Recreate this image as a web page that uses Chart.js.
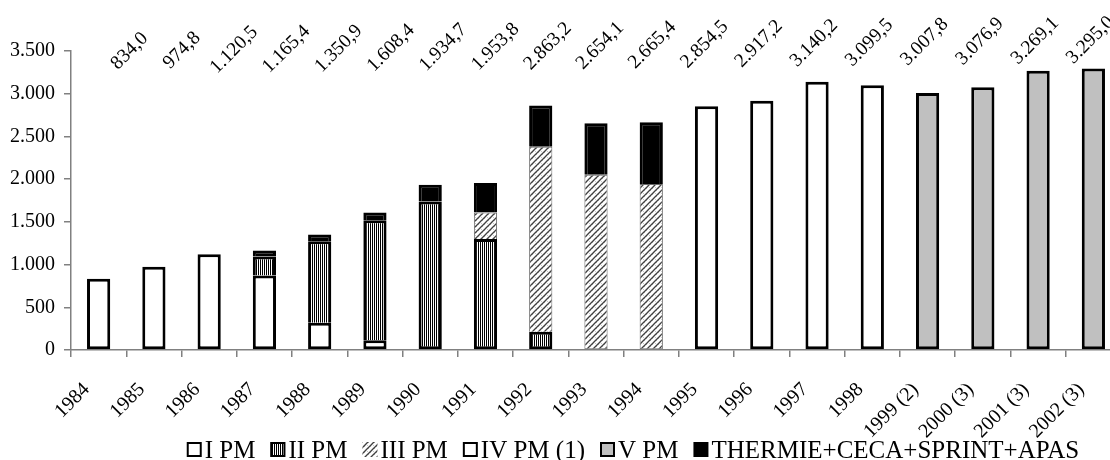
<!DOCTYPE html>
<html>
<head>
<meta charset="utf-8">
<script src="https://cdn.jsdelivr.net/npm/chart.js@4/dist/chart.umd.min.js"></script>
<style>
html, body { margin: 0; padding: 0; background: #fff; overflow: hidden; }
#box { position: absolute; left: 0; top: 0; width: 1121px; height: 460px; }
</style>
</head>
<body>
<div id="box"><canvas id="grafico" width="1121" height="460"></canvas></div>
<script>
var anni = ['1984', '1985', '1986', '1987', '1988', '1989', '1990', '1991', '1992', '1993',
            '1994', '1995', '1996', '1997', '1998', '1999 (2)', '2000 (3)', '2001 (3)', '2002 (3)'];

var pm1 = [834.0, 974.8, 1120.5, 871, 320, 114, null, null, null, null, null, null, null, null, null, null, null, null, null];
var pm2 = [null, null, null, 223, 954, 1406, 1739, 1298, 215, null, null, null, null, null, null, null, null, null, null];
var pm3 = [null, null, null, null, null, null, null, 312, 2165, 2052, 1943, null, null, null, null, null, null, null, null];
var pm4 = [null, null, null, null, null, null, null, null, null, null, null, 2854.5, 2917.2, 3140.2, 3099.5, null, null, null, null];
var pm5 = [null, null, null, null, null, null, null, null, null, null, null, null, null, null, null, 3007.8, 3076.9, 3269.1, 3295.0];
var thermie = [null, null, null, 71.4, 76.9, 88.4, 195.7, 343.8, 483.2, 602.1, 722.4, null, null, null, null, null, null, null, null];

var totali = [834.0, 974.8, 1120.5, 1165.4, 1350.9, 1608.4, 1934.7, 1953.8, 2863.2, 2654.1,
              2665.4, 2854.5, 2917.2, 3140.2, 3099.5, 3007.8, 3076.9, 3269.1, 3295.0];

var tickY = [0, 500, 1000, 1500, 2000, 2500, 3000, 3500];

var FONT = '"Liberation Serif", "Times New Roman", serif';

// formato 1.234,5
function formatta(v, dec) {
    var s = v.toFixed(dec);
    var parti = s.split('.');
    var intero = parti[0].replace(/\B(?=(\d{3})+(?!\d))/g, '.');
    return parti.length > 1 ? intero + ',' + parti[1] : intero;
}

// pattern righe verticali (II PM)
function patternRighe() {
    var c = document.createElement('canvas');
    c.width = 2; c.height = 2;
    var x = c.getContext('2d');
    x.fillStyle = '#fff'; x.fillRect(0, 0, 2, 2);
    x.fillStyle = '#000'; x.fillRect(0, 0, 1, 2);
    return x.createPattern(c, 'repeat');
}

// pattern tratteggio diagonale (III PM)
function patternDiagonale() {
    var c = document.createElement('canvas');
    c.width = 6; c.height = 6;
    var x = c.getContext('2d');
    x.fillStyle = '#fff'; x.fillRect(0, 0, 6, 6);
    x.fillStyle = '#c8c8c8';
    x.fillRect(1, 1, 1, 1); x.fillRect(4, 2, 1, 1); x.fillRect(2, 4, 1, 1);
    x.strokeStyle = '#404040';
    x.lineWidth = 1.3;
    x.beginPath();
    x.moveTo(-1, 7); x.lineTo(7, -1);
    x.moveTo(-1, 1); x.lineTo(1, -1);
    x.moveTo(5, 7); x.lineTo(7, 5);
    x.stroke();
    return x.createPattern(c, 'repeat');
}

var righe = patternRighe();
var diagonale = patternDiagonale();

// bordo: il segmento piu' basso ha anche il bordo inferiore
function bordo(ctx) {
    var ds = ctx.chart.data.datasets;
    var w = ds[ctx.datasetIndex].spessore;
    var sotto = false;
    for (var k = 0; k < ctx.datasetIndex; k++) {
        if (ds[k].data[ctx.dataIndex]) sotto = true;
    }
    return { top: w, left: w, right: w, bottom: sotto ? 0 : w };
}

function serie(label, data, fondo, bordoCol, spessore, legBordo) {
    return {
        label: label,
        data: data,
        backgroundColor: fondo,
        borderColor: bordoCol,
        spessore: spessore,
        legBordo: legBordo,
        borderWidth: bordo,
        borderSkipped: false,
        categoryPercentage: 1,
        barPercentage: 0.42
    };
}

var etichetteTotali = {
    id: 'etichetteTotali',
    afterDatasetsDraw: function(chart) {
        var c = chart.ctx;
        var xs = chart.scales.x;
        c.save();
        c.font = '19.5px ' + FONT;
        c.fillStyle = '#000';
        c.textAlign = 'center';
        c.textBaseline = 'middle';
        for (var i = 0; i < totali.length; i++) {
            var px = xs.getPixelForValue(i) + Math.max(-3, 31 - 3 * i);
            var py = 51 - 0.6 * i;
            c.save();
            c.translate(px, py);
            c.rotate(-Math.PI / 4);
            c.fillText(formatta(totali[i], 1), 0, 0);
            c.restore();
        }
        c.restore();
    }
};

var legenda = {
    id: 'legenda',
    afterDraw: function(chart) {
        var c = chart.ctx;
        var ds = chart.data.datasets;
        var box = 15, gap = 3, spazio = 15;
        c.save();
        c.font = '25px ' + FONT;
        c.textBaseline = 'alphabetic';
        c.textAlign = 'left';
        var tot = 0;
        for (var i = 0; i < ds.length; i++) {
            tot += box + gap + c.measureText(ds[i].label).width;
        }
        tot += spazio * (ds.length - 1);
        var x = 633 - tot / 2;
        var base = 458;
        for (var j = 0; j < ds.length; j++) {
            var top = base - 16;
            c.fillStyle = ds[j].backgroundColor;
            c.fillRect(x, top, box, box);
            if (ds[j].legBordo) {
                c.strokeStyle = '#000';
                c.lineWidth = 2;
                c.strokeRect(x + 1, top + 1, box - 2, box - 2);
            }
            x += box + gap;
            c.fillStyle = '#000';
            c.fillText(ds[j].label, x, base);
            x += c.measureText(ds[j].label).width + spazio;
        }
        c.restore();
    }
};

var ctx = document.getElementById('grafico');
var chart = new Chart(ctx, {
    type: 'bar',
    data: {
        labels: anni,
        datasets: [
            serie('I PM', pm1, '#ffffff', '#000000', 3, true),
            serie('II PM', pm2, righe, '#000000', 3, true),
            serie('III PM', pm3, diagonale, '#6a6a6a', 1, false),
            serie('IV PM (1)', pm4, '#ffffff', '#000000', 3, true),
            serie('V PM', pm5, '#c0c0c0', '#000000', 3, true),
            serie('THERMIE+CECA+SPRINT+APAS', thermie, '#000000', '#000000', 3, false)
        ]
    },
    options: {
        responsive: false,
        animation: false,
        layout: { padding: { top: 51, left: 10, right: 0, bottom: 10 } },
        plugins: {
            legend: { display: false },
            tooltip: { enabled: false }
        },
        scales: {
            x: {
                stacked: true,
                afterFit: function(s) { s.height = 100; s.paddingLeft = 0; s.paddingRight = 0; },
                grid: { display: true, drawOnChartArea: false, offset: true, tickLength: 7, color: '#808080', lineWidth: 1.5 },
                border: { color: '#808080', width: 1.5 },
                ticks: {
                    autoSkip: false,
                    minRotation: 45,
                    maxRotation: 45,
                    padding: 21,
                    labelOffset: -12,
                    color: '#000',
                    font: { family: FONT, size: 20 }
                }
            },
            y: {
                stacked: true,
                min: 0,
                max: 3500,
                afterFit: function(s) { s.width = 61; },
                afterBuildTicks: function(s) {
                    s.ticks = tickY.map(function(v) { return { value: v }; });
                },
                grid: { display: true, drawOnChartArea: false, tickLength: 7, color: '#808080', lineWidth: 1.5 },
                border: { color: '#808080', width: 1.5 },
                ticks: {
                    padding: 9,
                    color: '#000',
                    font: { family: FONT, size: 20 },
                    callback: function(v) { return formatta(v, 0); }
                }
            }
        }
    },
    plugins: [etichetteTotali, legenda]
});
</script>
</body>
</html>
